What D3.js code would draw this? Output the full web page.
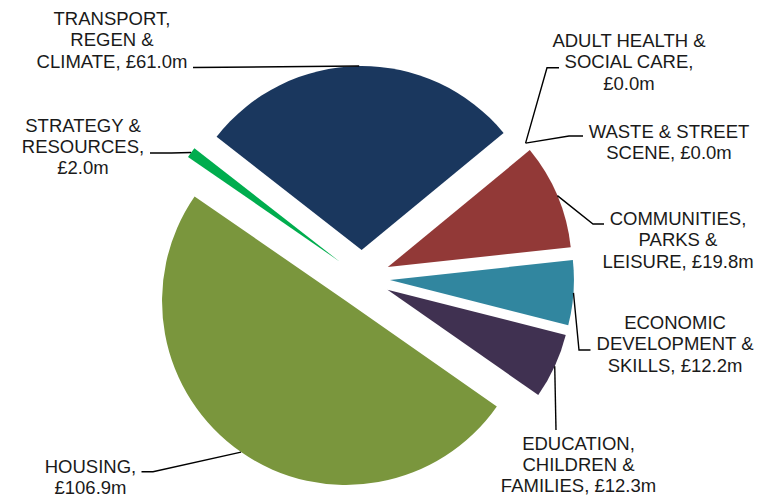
<!DOCTYPE html>
<html>
<head>
<meta charset="utf-8">
<script src="https://cdn.jsdelivr.net/npm/d3@7"></script>
<style>
  body { margin: 0; background: #fff; }
  svg { display: block; }
  .lbl { font-family: "Liberation Sans", Arial, sans-serif; font-size: 18.5px; fill: #1a1a1a; }
</style>
</head>
<body>
<div id="chart"></div>
<script>
// data (order as drawn, clockwise from the first slice)
var categories = ["Adult Health & Social Care", "Waste & Street Scene", "Communities, Parks & Leisure",
  "Economic Development & Skills", "Education, Children & Families", "Housing",
  "Strategy & Resources", "Transport, Regen & Climate"];
var values = [0.0, 0.0, 19.8, 12.2, 12.3, 106.9, 2.0, 61.0];
var labelLines = [
  ["ADULT HEALTH &", "SOCIAL CARE,", "£0.0m"],
  ["WASTE & STREET", "SCENE, £0.0m"],
  ["COMMUNITIES,", "PARKS &", "LEISURE, £19.8m"],
  ["ECONOMIC", "DEVELOPMENT &", "SKILLS, £12.2m"],
  ["EDUCATION,", "CHILDREN &", "FAMILIES, £12.3m"],
  ["HOUSING,", "£106.9m"],
  ["STRATEGY &", "RESOURCES,", "£2.0m"],
  ["TRANSPORT,", "REGEN &", "CLIMATE, £61.0m"]
];
var colors = ["#7f7f7f", "#a5a5a5", "#923937", "#31869f", "#403151", "#7a963d", "#00ad4e", "#1a375e"];

var width = 769, height = 497;
var cx = 362, cy = 278, radius = 184, explode = 28;
var startAngle = 50.5 * Math.PI / 180;
var lineH = 21.3;

// label placement: text centre x, first baseline y, leader bend points
var labelLayout = [
  {x: 629, y: 47, path: [[547, 67.7], [559, 67.7]]},
  {x: 669, y: 137.5, path: [[569, 136], [583, 136]]},
  {x: 678, y: 225, path: [[593, 224], [604, 224]]},
  {x: 675, y: 329, path: [[579, 350], [590.5, 350]]},
  {x: 578.5, y: 449.5, path: [[556, 430]]},
  {x: 90.5, y: 472.5, path: [[153, 471.7], [141.5, 471.7]]},
  {x: 83, y: 131.5, path: [[171.5, 153], [150, 153]]},
  {x: 112, y: 25, path: [[193, 67.5]]}
];

var svg = d3.select("#chart").append("svg")
  .attr("width", width).attr("height", height);

var pie = d3.pie().sort(null).value(d => d)
  .startAngle(startAngle).endAngle(startAngle + 2 * Math.PI);
var arcs = pie(values);

var arc = d3.arc().innerRadius(0).outerRadius(radius);

function mid(d) { return (d.startAngle + d.endAngle) / 2; }

var g = svg.append("g").attr("transform", `translate(${cx},${cy})`);

g.selectAll("path.slice")
  .data(arcs)
  .enter()
  .append("path")
  .attr("class", "slice")
  .attr("d", arc)
  .attr("fill", (d, i) => colors[i])
  .attr("transform", function(d) {
    var a = mid(d);
    return `translate(${explode * Math.sin(a)},${-explode * Math.cos(a)})`;
  });

// leader lines
var line = d3.line();
svg.selectAll("path.leader")
  .data(arcs)
  .enter()
  .append("path")
  .attr("class", "leader")
  .attr("fill", "none")
  .attr("stroke", "#000")
  .attr("stroke-width", 1.4)
  .attr("d", function(d, i) {
    var a = mid(d), r = radius + explode;
    var start = [cx + r * Math.sin(a), cy - r * Math.cos(a)];
    return line([start].concat(labelLayout[i].path));
  });

// labels
var labels = svg.selectAll("text.lbl")
  .data(labelLines)
  .enter()
  .append("text")
  .attr("class", "lbl")
  .attr("text-anchor", "middle")
  .attr("x", (d, i) => labelLayout[i].x)
  .attr("y", (d, i) => labelLayout[i].y);

labels.each(function(d, i) {
  var t = d3.select(this);
  d.forEach(function(s, j) {
    t.append("tspan")
      .attr("x", labelLayout[i].x)
      .attr("y", labelLayout[i].y + j * lineH)
      .text(s);
  });
});
</script>
</body>
</html>
